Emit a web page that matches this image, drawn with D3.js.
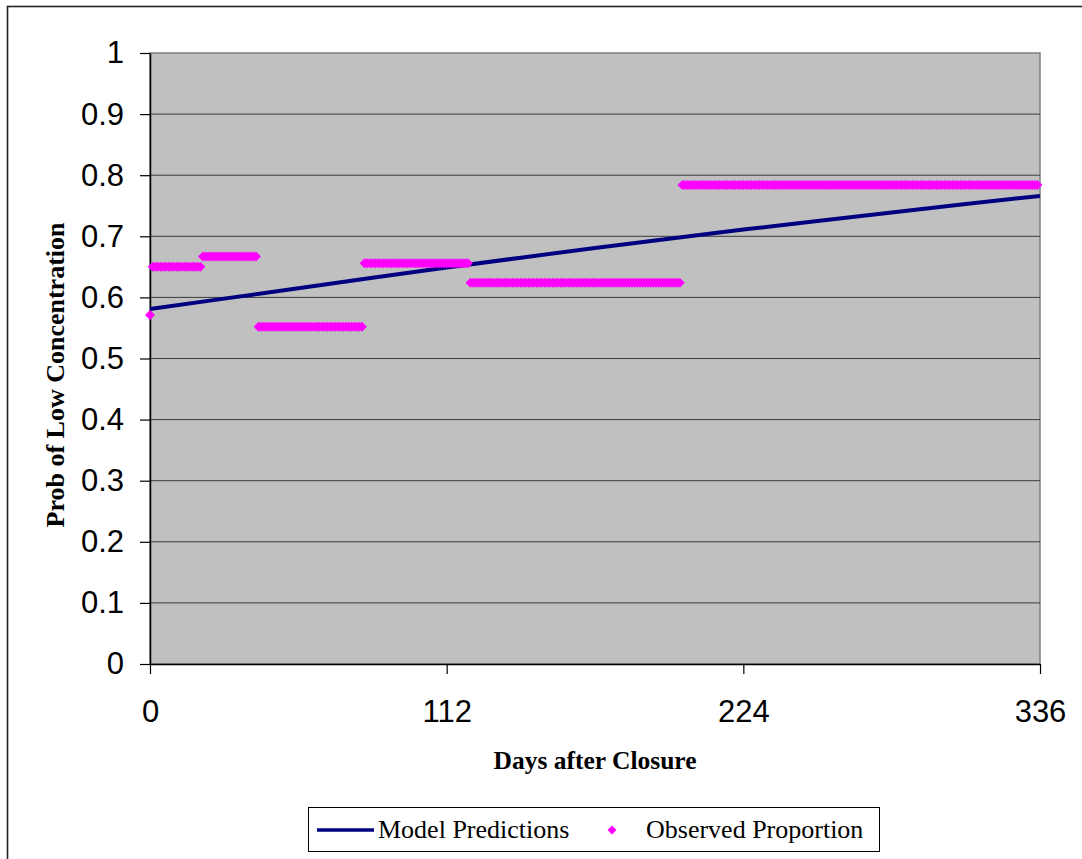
<!DOCTYPE html>
<html>
<head>
<meta charset="utf-8">
<script src="https://cdn.jsdelivr.net/npm/d3@7"></script>
<style>
  html, body { margin: 0; padding: 0; background: #fff; }
  svg { display: block; }
</style>
</head>
<body>
<svg id="chart" width="1082" height="859"></svg>
<script>
// Model: predicted probability of a low concentration, sampled every 28 days
const modelDays = [0, 28, 56, 84, 112, 140, 168, 196, 224, 252, 280, 308, 336];
const modelProb = [0.581, 0.598, 0.615, 0.632, 0.649, 0.665, 0.681, 0.696, 0.711, 0.725, 0.739, 0.753, 0.766];

// Observed proportion: constant within each monitoring period (first day, last day, proportion)
const obsStart = [0, 1, 20, 41, 81, 121, 201];
const obsEnd   = [0, 19, 40, 80, 120, 200, 335];
const obsProp  = [0.571, 0.650, 0.667, 0.552, 0.656, 0.624, 0.784];

// Axis ticks
const xTicks = [0, 112, 224, 336];
const yTicks = [0, 0.1, 0.2, 0.3, 0.4, 0.5, 0.6, 0.7, 0.8, 0.9, 1];
const yTickLabels = ["0", "0.1", "0.2", "0.3", "0.4", "0.5", "0.6", "0.7", "0.8", "0.9", "1"];

const svg = d3.select("#chart");

const plot = { left: 150, right: 1040, top: 53, bottom: 664 };

const x = d3.scaleLinear().domain([0, 336]).range([plot.left, plot.right]);
const y = d3.scaleLinear().domain([0, 1]).range([plot.bottom, plot.top]);

// Outer chart frame
svg.append("rect")
  .attr("x", 7.5).attr("y", 6.5)
  .attr("width", 1200).attr("height", 1000)
  .attr("fill", "none")
  .attr("stroke", "#222")
  .attr("stroke-width", 1.6);

// Plot area
svg.append("rect")
  .attr("x", plot.left).attr("y", plot.top)
  .attr("width", plot.right - plot.left)
  .attr("height", plot.bottom - plot.top)
  .attr("fill", "#c0c0c0")
  .attr("stroke", "#808080")
  .attr("stroke-width", 1.5);

// Horizontal gridlines
svg.append("g")
  .selectAll("line")
  .data(yTicks.filter(d => d > 0 && d < 1))
  .join("line")
  .attr("x1", plot.left).attr("x2", plot.right)
  .attr("y1", d => y(d)).attr("y2", d => y(d))
  .attr("stroke", "#3a3a3a")
  .attr("stroke-width", 1);

// Y axis
const yAxis = svg.append("g")
  .attr("transform", `translate(${plot.left},0)`)
  .call(d3.axisLeft(y)
    .tickValues(yTicks)
    .tickFormat((d, i) => yTickLabels[i])
    .tickSizeInner(10)
    .tickSizeOuter(0)
    .tickPadding(16));

// X axis
const xAxis = svg.append("g")
  .attr("transform", `translate(0,${plot.bottom})`)
  .call(d3.axisBottom(x)
    .tickValues(xTicks)
    .tickFormat(d3.format("d"))
    .tickSizeInner(10)
    .tickSizeOuter(0)
    .tickPadding(26));

[yAxis, xAxis].forEach(g => {
  g.select(".domain").attr("stroke", "#000").attr("stroke-width", 1.5);
  g.selectAll(".tick line").attr("stroke", "#000").attr("stroke-width", 1.2);
  g.selectAll(".tick text")
    .attr("fill", "#000")
    .style("font-family", "'Liberation Sans', Arial, sans-serif")
    .style("font-size", "31px");
});

// Model predictions line
const modelData = modelDays.map((d, i) => ({ day: d, p: modelProb[i] }));
svg.append("path")
  .datum(modelData)
  .attr("fill", "none")
  .attr("stroke", "#000080")
  .attr("stroke-width", 4)
  .attr("d", d3.line().x(d => x(d.day)).y(d => y(d.p)));

// Observed proportion: one diamond per day
const obsData = [];
obsStart.forEach((s, i) => {
  for (let day = s; day <= obsEnd[i]; day++) obsData.push({ day, p: obsProp[i] });
});
const diamond = "M0,-5L5,0L0,5L-5,0Z";
svg.append("g")
  .selectAll("path")
  .data(obsData)
  .join("path")
  .attr("d", diamond)
  .attr("transform", d => `translate(${x(d.day)},${y(d.p)})`)
  .attr("fill", "#ff00ff");

// Axis titles
svg.append("text")
  .attr("x", 595).attr("y", 769)
  .attr("text-anchor", "middle")
  .style("font-family", "'Liberation Serif', 'Times New Roman', serif")
  .style("font-weight", "bold")
  .style("font-size", "25.5px")
  .text("Days after Closure");

svg.append("text")
  .attr("transform", "translate(64,375) rotate(-90)")
  .attr("text-anchor", "middle")
  .style("font-family", "'Liberation Serif', 'Times New Roman', serif")
  .style("font-weight", "bold")
  .style("font-size", "26px")
  .text("Prob of Low Concentration");

// Legend
const legend = svg.append("g");
legend.append("rect")
  .attr("x", 308.5).attr("y", 807.5)
  .attr("width", 571).attr("height", 44)
  .attr("fill", "#fff")
  .attr("stroke", "#000")
  .attr("stroke-width", 1);
legend.append("line")
  .attr("x1", 317).attr("x2", 374)
  .attr("y1", 830).attr("y2", 830)
  .attr("stroke", "#000080")
  .attr("stroke-width", 3.5);
legend.append("text")
  .attr("x", 378).attr("y", 838)
  .style("font-family", "'Liberation Serif', 'Times New Roman', serif")
  .style("font-size", "26px")
  .text("Model Predictions");
legend.append("path")
  .attr("d", "M0,-4.5L4.5,0L0,4.5L-4.5,0Z")
  .attr("transform", "translate(612,830)")
  .attr("fill", "#ff00ff");
legend.append("text")
  .attr("x", 646).attr("y", 838)
  .style("font-family", "'Liberation Serif', 'Times New Roman', serif")
  .style("font-size", "26px")
  .text("Observed Proportion");
</script>
</body>
</html>
